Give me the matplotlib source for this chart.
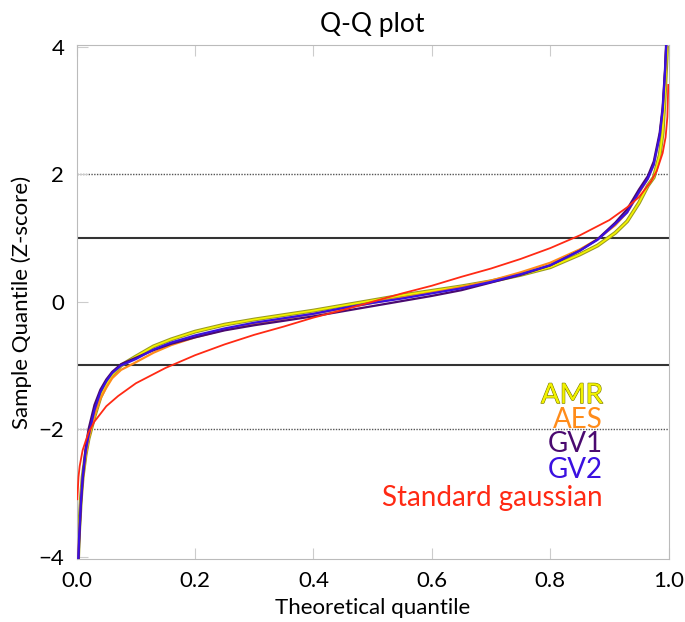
import matplotlib
matplotlib.use("Agg")
import matplotlib.pyplot as plt
import matplotlib.patheffects as pe

# theoretical quantile positions (shared by the four data sets)
p = [0.002, 0.004, 0.007, 0.01, 0.015, 0.02, 0.03, 0.04, 0.05, 0.06, 0.075,
     0.1, 0.13, 0.16, 0.2, 0.25, 0.3, 0.35, 0.4, 0.45, 0.5, 0.55, 0.6, 0.65,
     0.7, 0.75, 0.8, 0.85, 0.88, 0.91, 0.93, 0.95, 0.965, 0.975, 0.985, 0.99,
     0.994, 0.997, 0.999]

amr = [-4.1, -3.6, -3.1, -2.75, -2.4, -2.15, -1.8, -1.5, -1.3, -1.15, -1.0,
       -0.86, -0.70, -0.59, -0.47, -0.36, -0.28, -0.21, -0.14, -0.06, 0.02, 0.10,
       0.17, 0.24, 0.32, 0.42, 0.54, 0.74, 0.88, 1.08, 1.26, 1.55, 1.82, 1.95,
       2.3, 2.65, 3.3, 3.9, 4.5]
aes = [-4.2, -3.7, -3.15, -2.8, -2.42, -2.15, -1.78, -1.52, -1.35, -1.2, -1.07,
       -0.95, -0.8, -0.68, -0.56, -0.44, -0.35, -0.27, -0.19, -0.11, -0.02, 0.06,
       0.14, 0.23, 0.33, 0.46, 0.61, 0.82, 0.98, 1.2, 1.4, 1.7, 1.93, 2.15,
       2.6, 3.0, 3.55, 4.2, 4.6]
gv1 = [-4.3, -3.8, -3.2, -2.8, -2.3, -2.0, -1.62, -1.38, -1.22, -1.1, -0.98,
       -0.88, -0.76, -0.66, -0.56, -0.45, -0.37, -0.3, -0.23, -0.15, -0.07, 0.01,
       0.09, 0.18, 0.3, 0.42, 0.57, 0.8, 0.98, 1.24, 1.45, 1.76, 1.97, 2.2,
       2.65, 3.05, 3.65, 4.3, 4.7]
gv2 = [-4.2, -3.7, -3.15, -2.75, -2.35, -2.1, -1.7, -1.42, -1.25, -1.12, -1.0,
       -0.9, -0.75, -0.64, -0.53, -0.42, -0.33, -0.26, -0.19, -0.1, -0.02, 0.05,
       0.13, 0.21, 0.31, 0.43, 0.57, 0.8, 0.97, 1.22, 1.4, 1.72, 1.93, 2.15,
       2.6, 3.0, 3.6, 4.2, 4.6]

# standard gaussian sample
p_gauss = [0.001, 0.003, 0.005, 0.01, 0.02, 0.03, 0.05, 0.07, 0.1, 0.15, 0.2,
           0.25, 0.3, 0.35, 0.4, 0.45, 0.5, 0.55, 0.6, 0.65, 0.7, 0.75, 0.8,
           0.85, 0.9, 0.93, 0.95, 0.97, 0.98, 0.99, 0.995, 0.998, 0.9995]
gauss = [-3.1, -2.75, -2.58, -2.33, -2.05, -1.88, -1.64, -1.48, -1.28, -1.04,
         -0.84, -0.67, -0.52, -0.39, -0.25, -0.13, 0.0, 0.13, 0.25, 0.39, 0.52,
         0.67, 0.84, 1.04, 1.28, 1.48, 1.64, 1.88, 2.05, 2.33, 2.58, 2.9, 3.4]

labels = ["AMR", "AES", "GV1", "GV2", "Standard gaussian"]
colors = ["#f2f200", "#ff8c1a", "#4a0a70", "#3a10e0", "#ff2a14"]

plt.rcParams['font.family'] = ['Lato', 'DejaVu Sans']

fig = plt.figure(figsize=(6.85, 6.22), dpi=100)
ax = fig.add_axes([0.112, 0.102, 0.864, 0.825])

ax.axhline(1, color="#333333", lw=1.5, zorder=1)
ax.axhline(-1, color="#333333", lw=1.5, zorder=1)
ax.axhline(2, color="#555555", lw=1.0, ls=(0, (1, 1)), zorder=1)
ax.axhline(-2, color="#555555", lw=1.0, ls=(0, (1, 1)), zorder=1)

ax.plot(p, amr, color="#9a9a20", lw=2.8, zorder=2)
ax.plot(p, amr, color=colors[0], lw=1.3, zorder=2)
ax.plot(p, aes, color=colors[1], lw=1.6, zorder=3)
ax.plot(p, gv1, color=colors[2], lw=1.6, zorder=4)
ax.plot(p, gv2, color=colors[3], lw=1.6, zorder=5)
ax.plot(p_gauss, gauss, color=colors[4], lw=1.3, zorder=6)

ax.set_xlim(0, 1)
ax.set_ylim(-4.03, 4.02)
ax.set_xticks([0, 0.2, 0.4, 0.6, 0.8, 1.0])
ax.set_xticklabels(["0.0", "0.2", "0.4", "0.6", "0.8", "1.0"])
ax.set_yticks([-4, -2, 0, 2, 4])
ax.tick_params(direction="in", length=8, color="#cccccc", labelsize=16,
               top=True, pad=9)
for s in ax.spines.values():
    s.set_color("#bbbbbb")

ax.set_title("Q-Q plot", fontsize=19, pad=10)
ax.set_xlabel("Theoretical quantile", fontsize=16, labelpad=5)
ax.set_ylabel("Sample Quantile (Z-score)", fontsize=16, labelpad=5)

for lab, c, yy in zip(labels, colors, [395, 420, 444, 470, 498]):
    t = ax.text(0.889, 1 - (yy - 46) / 512, lab, color=c, fontsize=20,
                ha="right", va="center", transform=ax.transAxes)
    if lab == "AMR":
        t.set_path_effects([pe.withStroke(linewidth=0.8, foreground="#777700")])

fig.savefig("out.png", dpi=100)
